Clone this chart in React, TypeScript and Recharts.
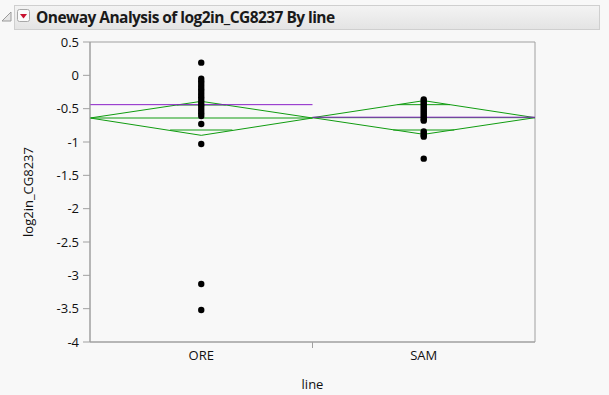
import React from 'react';
import {
  ComposedChart,
  Scatter,
  XAxis,
  YAxis,
  ReferenceLine,
  ReferenceArea,
} from 'recharts';

const groups = ['ORE', 'SAM'];
const groupCenters = [0.5, 1.5];
const oreValues = [
  0.19, -0.05, -0.09, -0.13, -0.17, -0.21, -0.25, -0.29, -0.33, -0.37, -0.41,
  -0.45, -0.49, -0.53, -0.57, -0.61, -0.73, -1.03, -3.13, -3.52,
];
const samValues = [
  -0.36, -0.39, -0.42, -0.45, -0.48, -0.51, -0.54, -0.57, -0.6, -0.63, -0.66,
  -0.68, -0.84, -0.87, -0.9, -0.92, -1.25,
];

// means diamonds: mean, 95% CI, overlap marks; plus the purple line per group
const groupMeans = [-0.64, -0.635];
const ciLower = [-0.9, -0.885];
const ciUpper = [-0.39, -0.38];
const overlapLower = [-0.82, -0.82];
const overlapUpper = [-0.445, -0.44];
const medianLines = [-0.44, -0.628];

const yTicks = [0.5, 0, -0.5, -1, -1.5, -2, -2.5, -3, -3.5, -4];

const GREEN = '#109c10';
const PURPLE = '#8a1fc8';
const FRAME = '#a0a0a0';
const FONT = '"Open Sans", "Noto Sans", sans-serif';

const oreData = oreValues.map((v) => ({ x: groupCenters[0], y: v }));
const samData = samValues.map((v) => ({ x: groupCenters[1], y: v }));

const Dot = (p: any) => <circle cx={p.cx} cy={p.cy} r={3.2} fill="#000" />;

function XTick(props: any) {
  const { x, y, payload } = props;
  const idx = groupCenters.indexOf(payload.value);
  if (idx < 0) {
    // divider between the groups
    return <line x1={x} x2={x} y1={y - 8} y2={y - 2} stroke={FRAME} />;
  }
  return (
    <text x={x} y={y + 10} textAnchor="middle" fontSize={13} fontFamily={FONT} fill="#111">
      {groups[idx]}
    </text>
  );
}

function diamond(i: number) {
  const lo = groupCenters[i] - 0.5;
  const hi = groupCenters[i] + 0.5;
  const c = groupCenters[i];
  const m = groupMeans[i];
  // overlap marks sit where the diamond edge crosses them
  const f = (v: number) => 0.5 * (1 - Math.abs(v - m) / Math.abs(ciUpper[i] - m));
  const segs: [number, number, number, number][] = [
    [lo, m, c, ciUpper[i]],
    [c, ciUpper[i], hi, m],
    [lo, m, c, ciLower[i]],
    [c, ciLower[i], hi, m],
    [lo, m, hi, m],
    [c - f(overlapUpper[i]), overlapUpper[i], c + f(overlapUpper[i]), overlapUpper[i]],
    [c - f(overlapLower[i]), overlapLower[i], c + f(overlapLower[i]), overlapLower[i]],
  ];
  return segs.map((s, k) => (
    <ReferenceLine
      key={`d${i}-${k}`}
      segment={[
        { x: s[0], y: s[1] },
        { x: s[2], y: s[3] },
      ]}
      stroke={GREEN}
      strokeWidth={1}
      ifOverflow="visible"
    />
  ));
}

export default function App() {
  return (
    <div
      style={{
        position: 'absolute',
        left: 0,
        top: 0,
        width: 609,
        height: 395,
        background: '#f8f8f8',
        fontFamily: FONT,
      }}
    >
      {/* outline header */}
      <svg width={12} height={12} style={{ position: 'absolute', left: 1, top: 11 }}>
        <path d="M10 1 L10 10 L1 10 Z" fill="#e6e6e6" stroke="#9a9a9a" />
      </svg>
      <div
        style={{
          position: 'absolute',
          left: 14,
          top: 5,
          width: 586,
          height: 25,
          background: 'linear-gradient(#f3f3f3, #e4e4e4)',
          border: '1px solid #cfcfcf',
          boxSizing: 'border-box',
        }}
      />
      <svg width={14} height={14} style={{ position: 'absolute', left: 17, top: 9 }}>
        <rect x={0.5} y={0.5} width={12} height={12} rx={2} fill="#fafafa" stroke="#a8a8a8" />
        <path d="M3 5 L10 5 L6.5 9.5 Z" fill="#c8102e" />
      </svg>
      <div
        style={{
          position: 'absolute',
          left: 36,
          top: 6,
          fontSize: 15.5,
          fontWeight: 700,
          color: '#1a1a1a',
          whiteSpace: 'nowrap',
          letterSpacing: -0.55,
        }}
      >
        Oneway Analysis of log2in_CG8237 By line
      </div>

      <div style={{ position: 'absolute', left: 0, top: 0 }}>
        <ComposedChart width={609} height={395} margin={{ top: 42, right: 74, bottom: 0, left: 0 }}>
          <XAxis
            type="number"
            dataKey="x"
            domain={[0, 2]}
            ticks={[0.5, 1, 1.5]}
            tick={<XTick />}
            tickLine={false}
            axisLine={{ stroke: FRAME }}
            height={53}
            interval={0}
            label={{ value: 'line', position: 'insideBottom', offset: 6, fontSize: 13, fill: '#111', fontFamily: FONT }}
          />
          <YAxis
            type="number"
            dataKey="y"
            domain={[-4, 0.5]}
            ticks={yTicks}
            interval={0}
            width={90}
            tickSize={7}
            tickMargin={4}
            tickLine={{ stroke: FRAME }}
            axisLine={{ stroke: FRAME }}
            tick={{ fontSize: 13, fill: '#111', fontFamily: FONT }}
            label={{
              value: 'log2in_CG8237',
              angle: -90,
              position: 'insideLeft',
              offset: 28,
              style: { textAnchor: 'middle', fontSize: 13, fill: '#111', fontFamily: FONT },
            }}
          />
          <ReferenceArea x1={0} x2={2} y1={-4} y2={0.5} stroke={FRAME} fill="none" ifOverflow="visible" />
          {diamond(0)}
          {diamond(1)}
          {medianLines.map((v, i) => (
            <ReferenceLine
              key={`m${i}`}
              segment={[
                { x: groupCenters[i] - 0.5, y: v },
                { x: groupCenters[i] + 0.5, y: v },
              ]}
              stroke={PURPLE}
              strokeWidth={1}
            />
          ))}
          <Scatter data={oreData} shape={Dot} isAnimationActive={false} />
          <Scatter data={samData} shape={Dot} isAnimationActive={false} />
        </ComposedChart>
      </div>
    </div>
  );
}
